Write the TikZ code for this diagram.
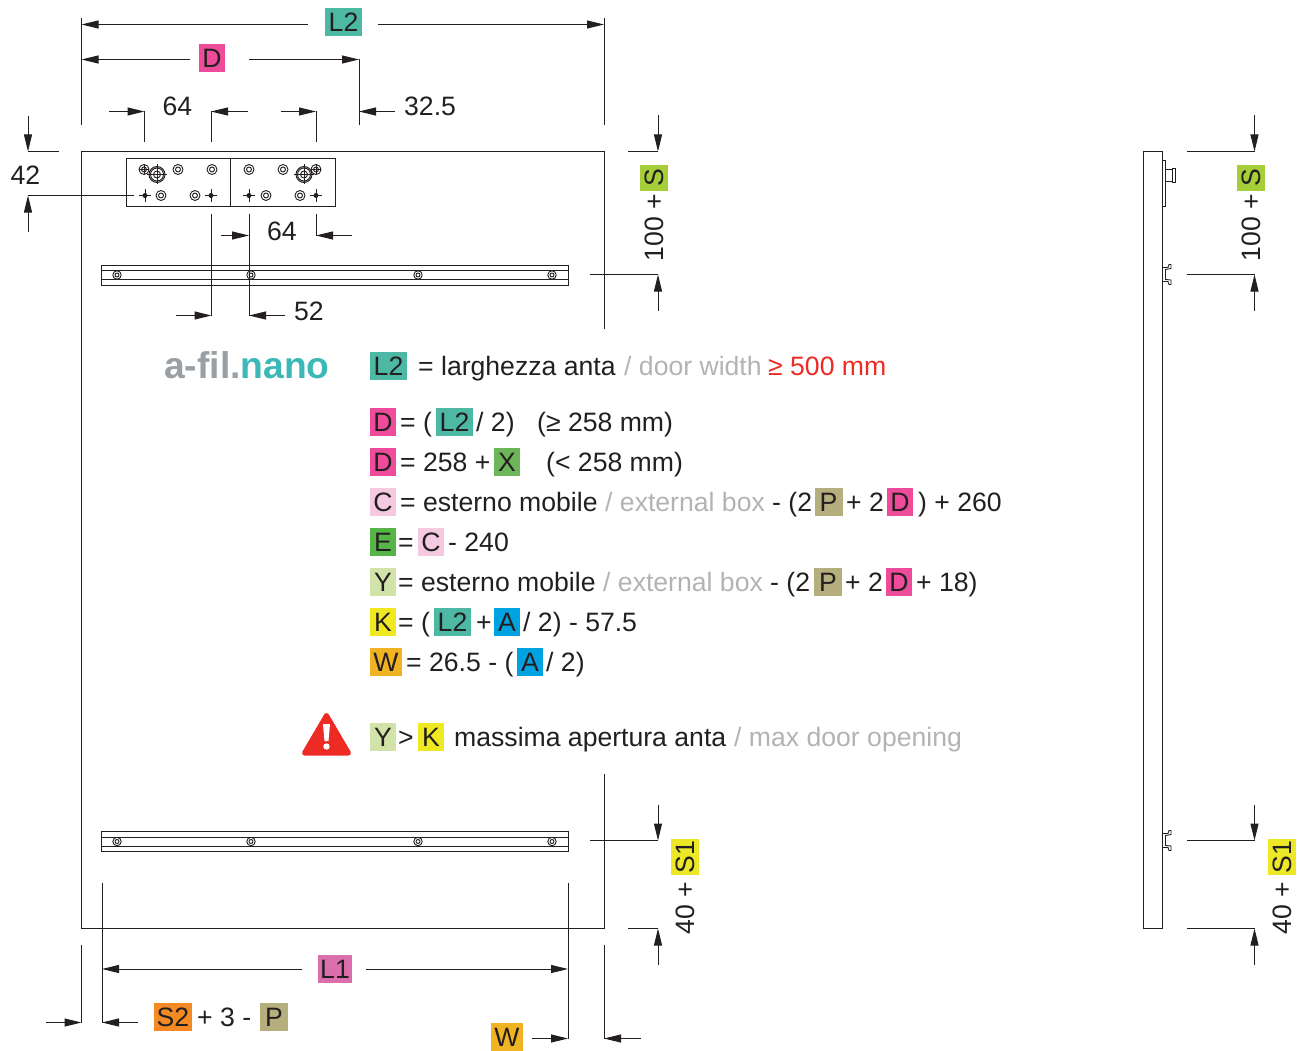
\documentclass[tikz,border=0pt]{standalone}
\usepackage{fontspec}
\setmainfont{Liberation Sans}
\usetikzlibrary{arrows.meta}
\definecolor{ink}{HTML}{231F20}
\definecolor{softgrey}{HTML}{B3B3B3}
\definecolor{alertred}{HTML}{EE2A24}
\tikzset{%
  >={Triangle[width=8pt,length=17pt]},
  % Specifications for style of nodes:
       lbl/.style = {inner sep=0pt, text=ink, text height=19.5pt, text depth=0pt,
                     font=\fontsize{26.6}{30}\selectfont},
      note/.style = {lbl, anchor=west},
     faint/.style = {note, text=softgrey},
       tag/.style = {lbl, minimum height=28pt, minimum width=26pt},
    tagLtwo/.style = {tag, fill={rgb,255:red,77;green,184;blue,164}, minimum width=37pt},
      tagD/.style = {tag, fill={rgb,255:red,238;green,76;blue,155}},
      tagX/.style = {tag, fill={rgb,255:red,108;green,181;blue,88}},
      tagC/.style = {tag, fill={rgb,255:red,245;green,201;blue,223}},
      tagP/.style = {tag, fill={rgb,255:red,181;green,174;blue,125}, minimum width=28pt},
      tagE/.style = {tag, fill={rgb,255:red,87;green,180;blue,71}},
      tagY/.style = {tag, fill={rgb,255:red,210;green,227;blue,169}},
      tagK/.style = {tag, fill={rgb,255:red,240;green,233;blue,34}},
      tagA/.style = {tag, fill={rgb,255:red,0;green,163;blue,224}},
      tagW/.style = {tag, fill={rgb,255:red,240;green,179;blue,35}, minimum width=32pt},
      tagS/.style = {tag, fill={rgb,255:red,166;green,206;blue,57}, rotate=90},
   tagSone/.style = {tag, fill={rgb,255:red,237;green,232;blue,39}, minimum width=36pt, rotate=90},
   tagLone/.style = {tag, fill={rgb,255:red,219;green,111;blue,172}, minimum width=34pt},
   tagStwo/.style = {tag, fill={rgb,255:red,245;green,138;blue,37}, minimum width=38pt},
       dim/.style = {->, line width=1pt, draw=ink},
       ext/.style = {line width=1pt, draw=ink},
     heavy/.style = {line width=1pt, draw=ink},
      fine/.style = {line width=.9pt, draw=ink},
}
\begin{document}
\begin{tikzpicture}[x=1pt, y=-1pt]
  \useasboundingbox (0,0) rectangle (1300,1051);
  \begin{scope}[shift={(0,.5)}]
  % Door outline, open on the right where the text runs
  \draw[heavy] (604,328) -- (604,151) -- (81.5,151) -- (81.5,928) -- (604,928) -- (604,773);
  % Hinge plate
  \draw[heavy] (126,158) rectangle (335,206);
  \draw[heavy] (230.5,158) -- (230.5,206);
  \foreach \sx in {178,212,249,283} {
    \draw[fine] (\sx,169) circle (5) (\sx,169) circle (2.5);
  }
  \foreach \sx in {161,195,266,300} {
    \draw[fine] (\sx,195) circle (5) (\sx,195) circle (2.5);
  }
  \foreach \sx in {144,316} {
    \draw[fine] (\sx,169) circle (5) (\sx,169) circle (2.5);
    \draw[fine] (\sx-5,169) -- (\sx+5,169) (\sx,164) -- (\sx,174);
  }
  \foreach \sx in {145,211,249,316} {
    \fill[ink] (\sx,195) circle (2.5);
    \draw[fine] (\sx-6,195) -- (\sx+6,195) (\sx,189) -- (\sx,201);
  }
  \foreach \sx in {157,304} {
    \draw[fine] (\sx,174) circle (8) (\sx,174) circle (6.5) (\sx,174) circle (3.5);
    \draw[fine] (\sx-10,174) -- (\sx+10,174) (\sx,164) -- (\sx,184);
  }
  % Rails
  \foreach \ry in {264.5,831} {
    \draw[heavy] (101.5,\ry) rectangle (568,\ry+20);
    \draw[heavy] (101.5,\ry+5.5) -- (568,\ry+5.5);
    \draw[fine] (101.5,\ry+14.5) -- (568,\ry+14.5);
    \foreach \sx in {117,251,418,552} {
      \draw[fine] (\sx,\ry+10) circle (4.2) (\sx,\ry+10) circle (2);
    }
  }
  % Side view
  \draw[heavy] (1143,151) rectangle (1162,928);
  \draw[fine] (1162,159.5) -- (1165.5,159.5) -- (1165.5,206) -- (1162,206);
  \draw[fine] (1165.5,169) -- (1172,169) (1165.5,181) -- (1172,181);
  \draw[fine] (1172,167.5) rectangle (1175,182);
  \foreach \cy in {274,840} {
    \draw[fine] (1162,\cy-7) -- (1168,\cy-7) -- (1169,\cy-10) -- (1171,\cy-10) -- (1171,\cy-6)
      -- (1165.5,\cy-5) -- (1165.5,\cy+5) -- (1171,\cy+5.5) -- (1171,\cy+10) -- (1169,\cy+10)
      -- (1168,\cy+7) -- (1162,\cy+7);
  }
  % Top dimension lines
  \draw[ext] (81.5,18) -- (81.5,125);
  \draw[ext] (604,18) -- (604,125);
  \draw[dim] (308,24) -- (81.5,24);
  \draw[dim] (378,24) -- (604,24);
  \draw[dim] (190,59) -- (81.5,59);
  \draw[dim] (249,59) -- (359,59);
  \draw[ext] (359,59) -- (359,125);
  \draw[dim] (395,111) -- (359,111);
  \draw[dim] (109,111) -- (144.5,111);
  \draw[ext] (144.5,111) -- (144.5,142);
  \draw[dim] (248,111) -- (211,111);
  \draw[ext] (211,111) -- (211,142);
  \draw[dim] (281,111) -- (316,111);
  \draw[ext] (316,111) -- (316,142);
  \draw[dim] (28,116) -- (28,151);
  \draw[ext] (28,151) -- (59,151);
  \draw[dim] (28,231) -- (28,195);
  \draw[ext] (28,195) -- (134,195);
  % Dimension lines below the plate
  \draw[ext] (211.5,213) -- (211.5,315);
  \draw[dim] (176,315) -- (211.5,315);
  \draw[ext] (249,213) -- (249,315);
  \draw[dim] (285,315) -- (249,315);
  \draw[dim] (221,235) -- (249,235);
  \draw[ext] (316,213) -- (316,235);
  \draw[dim] (352,235) -- (316,235);
  % Dimension lines on the right
  \foreach \dx/\ax in {628/658,1187/1254.5} {
    \draw[ext] (\dx,151) -- (\ax,151);
    \draw[dim] (\ax,115) -- (\ax,151);
    \draw[ext] (\dx,928) -- (\ax,928);
    \draw[dim] (\ax,964) -- (\ax,928);
  }
  \foreach \dx/\ax in {590/658,1187/1254.5} {
    \draw[ext] (\dx,274) -- (\ax,274);
    \draw[dim] (\ax,310) -- (\ax,274);
    \draw[ext] (\dx,840) -- (\ax,840);
    \draw[dim] (\ax,804) -- (\ax,840);
  }
  % Dimension lines at the bottom
  \draw[ext] (102,882) -- (102,1022);
  \draw[ext] (81.5,944) -- (81.5,1022);
  \draw[dim] (46,1022) -- (81.5,1022);
  \draw[dim] (138,1022) -- (102,1022);
  \draw[dim] (302,968.5) -- (102,968.5);
  \draw[dim] (366,968.5) -- (568,968.5);
  \draw[ext] (568,882) -- (568,1038);
  \draw[dim] (532,1038) -- (568,1038);
  \draw[ext] (604,944) -- (604,1038);
  \draw[dim] (641,1038) -- (604,1038);
  \end{scope}
  % Dimension labels
  \node (lTwoTop) [tagLtwo] at (343.5,22) {L2};
  \node (dTop) [tagD] at (212,58) {D};
  \node (sixtyFourTop) [lbl] at (177.5,106) {64};
  \node (thirtyTwo) [note] at (404,106) {32.5};
  \node (fortyTwo) [lbl] at (25.5,175) {42};
  \node (sixtyFourLow) [lbl] at (282,231) {64};
  \node (fiftyTwo) [note] at (294,311) {52};
  \node (hundredDoor) [note, rotate=90] at (654,261.5) {100 +};
  \node (sDoor) [tagS] at (654,178) {S};
  \node (fortyDoor) [note, rotate=90] at (685,934.5) {40 +};
  \node (sOneDoor) [tagSone] at (685,857) {S1};
  \node (hundredSide) [note, rotate=90] at (1251,261.5) {100 +};
  \node (sSide) [tagS] at (1251,178) {S};
  \node (fortySide) [note, rotate=90] at (1282,934.5) {40 +};
  \node (sOneSide) [tagSone] at (1282,857) {S1};
  \node (lOneLow) [tagLone] at (335,969) {L1};
  \node (sTwoLow) [tagStwo] at (173,1017) {S2};
  \node (threeLow) [note] at (197,1017) {+ 3 -};
  \node (pLow) [tagP] at (274,1017) {P};
  \node (wLow) [tagW] at (507,1037) {W};
  % Brand
  \node (brand) [anchor=west, inner sep=0pt, font=\fontsize{37.2}{42}\selectfont\bfseries]
    at (164,365.5) {\textcolor[HTML]{9A9FA3}{a-fil.}\textcolor[HTML]{3DB8B8}{nano}};
  % Formula block
  \node (lTwoHead) [tagLtwo] at (388.5,366) {L2};
  \node (headText) [note] at (418,366) {= larghezza anta};
  \node (headGrey) [faint] at (624,366) {/ door width};
  \node (headRed) [note, text=alertred] at (768,366) {≥ 500 mm};

  \node (dOne) [tagD] at (383,422) {D};
  \node (dOneText) [note] at (400,422) {= (};
  \node (lTwoOne) [tagLtwo] at (454.5,422) {L2};
  \node (dOneEnd) [note] at (476,422) {/ 2)};
  \node (dOneNote) [note] at (537,422) {(≥ 258 mm)};

  \node (dTwo) [tagD] at (383,462) {D};
  \node (dTwoText) [note] at (400,462) {= 258 +};
  \node (xTwo) [tagX] at (507,462) {X};
  \node (dTwoNote) [note] at (546,462) {(< 258 mm)};

  \node (cThree) [tagC] at (383,502) {C};
  \node (cText) [note] at (400,502) {= esterno mobile};
  \node (cGrey) [faint] at (605,502) {/ external box};
  \node (cMinus) [note] at (772,502) {- (2};
  \node (pThree) [tagP] at (828.5,502) {P};
  \node (cPlus) [note] at (846,502) {+ 2};
  \node (dThree) [tagD] at (900,502) {D};
  \node (cEnd) [note] at (918,502) {) + 260};

  \node (eFour) [tagE] at (383,542) {E};
  \node (eText) [note] at (398,542) {=};
  \node (cFour) [tagC] at (431,542) {C};
  \node (eEnd) [note] at (448,542) {- 240};

  \node (yFive) [tagY] at (383,582) {Y};
  \node (yText) [note] at (398,582) {= esterno mobile};
  \node (yGrey) [faint] at (603,582) {/ external box};
  \node (yMinus) [note] at (770,582) {- (2};
  \node (pFive) [tagP] at (828,582) {P};
  \node (yPlus) [note] at (845,582) {+ 2};
  \node (dFive) [tagD] at (899,582) {D};
  \node (yEnd) [note] at (916,582) {+ 18)};

  \node (kSix) [tagK] at (383,622) {K};
  \node (kText) [note] at (398,622) {= (};
  \node (lTwoSix) [tagLtwo] at (452.5,622) {L2};
  \node (kPlus) [note] at (476,622) {+};
  \node (aSix) [tagA] at (507,622) {A};
  \node (kEnd) [note] at (523,622) {/ 2) - 57.5};

  \node (wSeven) [tagW] at (386,662) {W};
  \node (wText) [note] at (406,662) {= 26.5 - (};
  \node (aSeven) [tagA] at (530,662) {A};
  \node (wEnd) [note] at (546,662) {/ 2)};

  \node (yEight) [tagY] at (383,737) {Y};
  \node (gtEight) [note] at (398,737) {>};
  \node (kEight) [tagK] at (431,737) {K};
  \node (maxText) [note] at (454,737) {massima apertura anta};
  \node (maxGrey) [faint] at (734,737) {/ max door opening};
  % Warning sign
  \fill[alertred, draw=alertred, line width=5pt, line join=round]
    (326.5,715.5) -- (348.5,753) -- (304.5,753) -- cycle;
  \fill[white] (323,724) -- (330,724) -- (328.5,741) -- (324.5,741) -- cycle;
  \fill[white] (326.5,746.5) circle (3.2);
\end{tikzpicture}
\end{document}
